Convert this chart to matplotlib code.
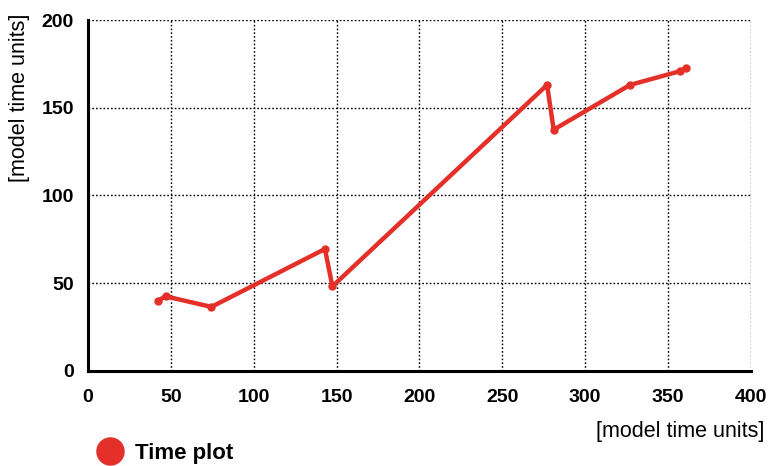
import matplotlib
matplotlib.use("Agg")
import matplotlib.pyplot as plt
from matplotlib.lines import Line2D

x_vals = [42, 47, 74.5, 143, 147.5, 277, 281, 327, 357, 361]
y_vals = [40, 42.5, 36.5, 69.5, 48.2, 163, 137.5, 163, 170.8, 172.8]
x_ticks = [0, 50, 100, 150, 200, 250, 300, 350, 400]
y_ticks = [0, 50, 100, 150, 200]
axis_label = "[model time units]"
series_name = "Time plot"
red = "#e5302a"

plt.rcParams['font.family'] = ['Liberation Sans', 'DejaVu Sans']

fig = plt.figure(figsize=(7.71, 4.66), dpi=100)
ax = fig.add_axes([0.114, 0.204, 0.860, 0.753])
ax.plot(x_vals, y_vals, color=red, lw=3.2, marker='o', ms=5, zorder=3)
ax.set_xlim(0, 400)
ax.set_ylim(0, 200)
ax.set_xticks(x_ticks)
ax.set_yticks(y_ticks)
ax.grid(True, color='black', linestyle=(0, (1.2, 1.5)), linewidth=1.0)
for s in ['top', 'right']:
    ax.spines[s].set_visible(False)
for s in ['left', 'bottom']:
    ax.spines[s].set_linewidth(2.2)
ax.tick_params(length=0, labelsize=14)
ax.tick_params(axis='x', pad=13)
ax.tick_params(axis='y', pad=10)
for lab in ax.get_xticklabels() + ax.get_yticklabels():
    lab.set_fontweight('bold')
fig.text(20 / 771, 1 - 98 / 466, axis_label, fontsize=15.5, rotation=90,
         ha='center', va='center')
fig.text(0.992, 1 - 432 / 466, axis_label, fontsize=15.5, ha='right', va='center')
handle = Line2D([], [], linestyle='none', marker='o', markersize=19.5, color=red)
fig.legend([handle], [series_name], loc='center left', bbox_to_anchor=(93.3 / 771, 1 - 453 / 466),
           frameon=False, prop={'weight': 'bold', 'size': 16}, handletextpad=0.38,
           handlelength=1.5, borderaxespad=0, borderpad=0)
fig.savefig("out.png", dpi=100)
